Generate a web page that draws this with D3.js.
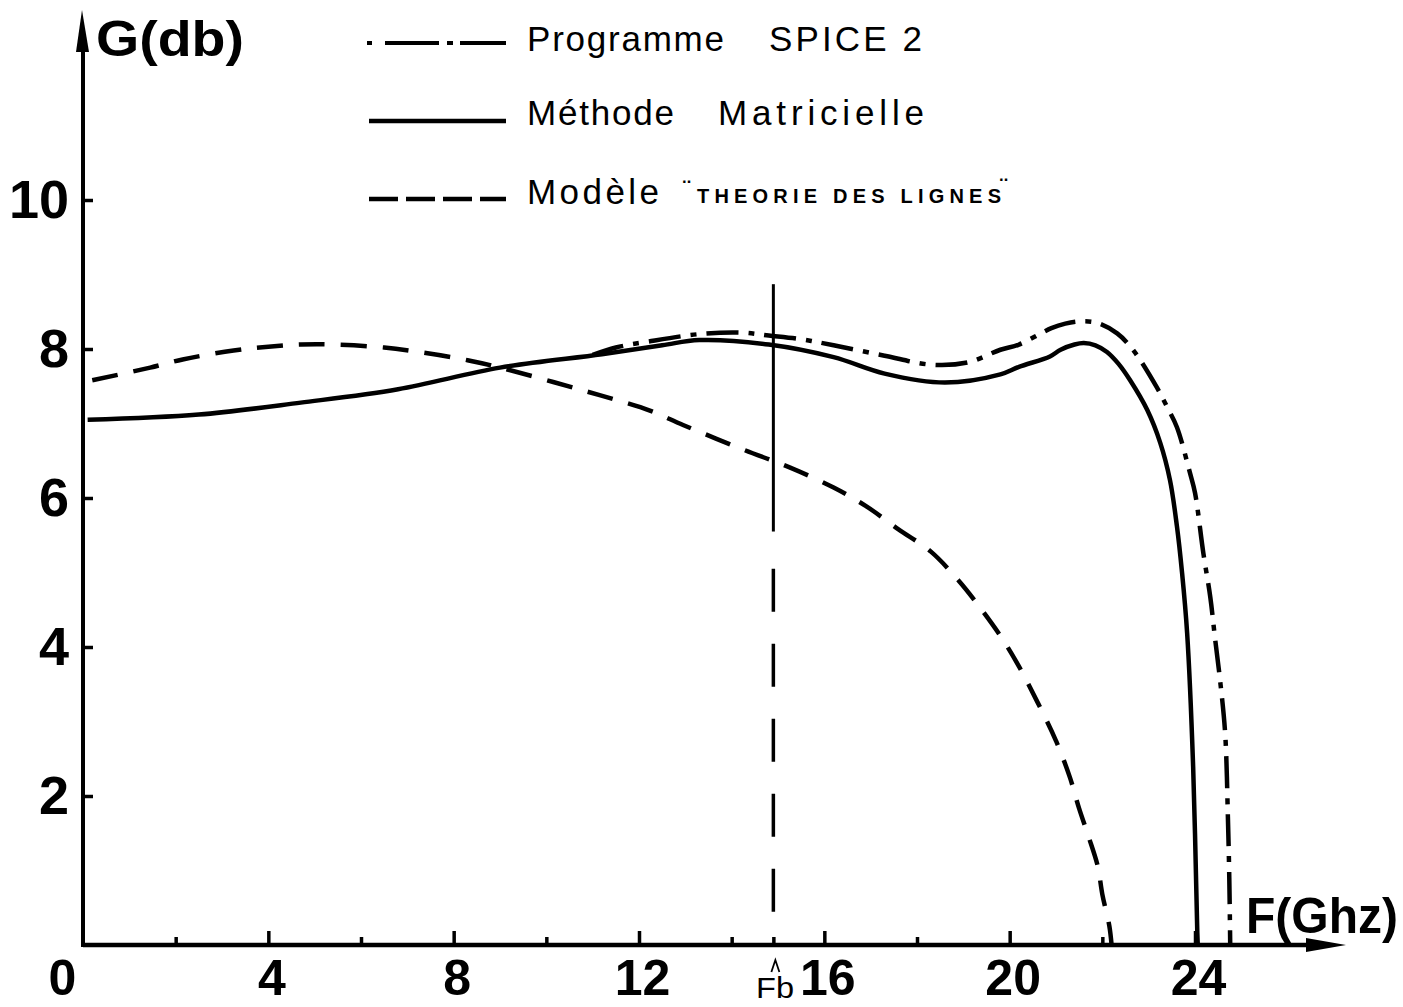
<!DOCTYPE html>
<html>
<head>
<meta charset="utf-8">
<script src="https://cdn.jsdelivr.net/npm/d3@7/dist/d3.min.js"></script>
<style>
  html, body { margin: 0; padding: 0; background: #fff; }
  svg { display: block; }
</style>
</head>
<body>
<svg id="chart" width="1403" height="1007"></svg>
<script>
// Gain G (dB) versus frequency F (GHz) for three computation methods.

// Méthode Matricielle (solid)
const matFreq = [0.1, 2.5, 4.7, 6.8, 9.0, 11.2, 12.5, 13.3, 14.8, 16.2, 17.3, 18.6, 19.8, 20.2, 20.87, 21.1, 21.4, 21.6, 21.85, 22.1, 22.35, 22.6, 22.97, 23.25, 23.46, 23.61, 23.72, 23.83, 23.96, 24.05, 24.06];
const matGain = [7.05, 7.12, 7.28, 7.46, 7.75, 7.93, 8.05, 8.12, 8.06, 7.89, 7.67, 7.55, 7.66, 7.76, 7.9, 7.99, 8.06, 8.08, 8.05, 7.96, 7.8, 7.58, 7.18, 6.74, 6.24, 5.62, 5.0, 4.19, 2.39, 0.16, 0];

// Programme SPICE 2 (dash-dot)
const spiceFreq = [11.0, 11.5, 12.2, 13.3, 14.2, 14.8, 15.5, 16.2, 17.3, 18.3, 19.1, 19.8, 20.2, 20.9, 21.2, 21.52, 21.89, 22.32, 22.66, 23.18, 23.4, 23.61, 23.89, 24.0, 24.18, 24.33, 24.43, 24.54, 24.65, 24.71, 24.74, 24.76];
const spiceGain = [7.92, 8.02, 8.10, 8.2, 8.22, 8.18, 8.13, 8.05, 7.91, 7.79, 7.82, 7.99, 8.06, 8.28, 8.34, 8.37, 8.35, 8.21, 7.99, 7.48, 7.22, 6.95, 6.34, 6.07, 5.26, 4.67, 4.13, 3.56, 2.85, 1.72, 0.9, 0];

// Modèle "théorie des lignes" (dashed)
const lineFreq = [0.2, 1.45, 2.15, 3.25, 4.0, 4.7, 5.4, 6.5, 7.35, 8.3, 9.0, 11.15, 12.25, 12.95, 14.25, 15.25, 16.2, 16.9, 17.6, 18.3, 18.9, 19.3, 19.8, 20.2, 20.6, 21.0, 21.3, 21.5, 21.7, 21.9, 22.0, 22.15, 22.2];
const lineGain = [7.58, 7.75, 7.86, 7.98, 8.03, 8.06, 8.06, 8.02, 7.95, 7.85, 7.75, 7.38, 7.17, 6.98, 6.65, 6.41, 6.14, 5.89, 5.58, 5.28, 4.89, 4.58, 4.15, 3.74, 3.26, 2.74, 2.25, 1.83, 1.46, 1.06, 0.68, 0.26, 0];

// Axis ticks
const xMajorTicks = [0, 4, 8, 12, 16, 20, 24];
const xMinorTicks = [2, 6, 10, 14, 18, 22];
const yTicks = [2, 4, 6, 8, 10];

// Marker frequency Fb and the extent of its vertical line
const fbFreq = 14.9;
const fbSolidTop = 8.87, fbSolidBottom = 5.55, fbDashTop = 5.05;

// Legend entries
const legendLabels = ["Programme", "SPICE 2", "Méthode", "Matricielle", "Modèle", "THEORIE DES LIGNES"];

const svg = d3.select("#chart");
const x = d3.scaleLinear().domain([0, 24]).range([83, 1195]);
const y = d3.scaleLinear().domain([0, 10]).range([945, 200]);

const ink = "#000";
const labelFont = "'Liberation Sans', Arial, sans-serif";

// ---- axes ----
const xAxisMajor = d3.axisBottom(x).tickValues(xMajorTicks).tickSize(-14).tickPadding(15).tickFormat(d3.format("d"));
const gxMaj = svg.append("g").attr("transform", `translate(0,${y(0)})`).call(xAxisMajor);
gxMaj.select(".domain").remove();
gxMaj.selectAll(".tick line").attr("stroke", ink).attr("stroke-width", 3.5);
gxMaj.selectAll(".tick").filter(d => d === 0).select("line").remove();
gxMaj.selectAll(".tick text")
  .attr("font-family", labelFont).attr("font-weight", "bold").attr("font-size", 50).attr("fill", ink)
  .attr("dy", null).attr("y", 50)
  .attr("dx", d => d === 0 ? -21 : 3);

const xAxisMinor = d3.axisBottom(x).tickValues(xMinorTicks.concat([fbFreq])).tickSize(-8).tickFormat("");
const gxMin = svg.append("g").attr("transform", `translate(0,${y(0)})`).call(xAxisMinor);
gxMin.select(".domain").remove();
gxMin.selectAll(".tick line").attr("stroke", ink).attr("stroke-width", 3.5);

const yAxis = d3.axisLeft(y).tickValues(yTicks).tickSize(-10).tickPadding(14).tickFormat(d3.format("d"));
const gy = svg.append("g").attr("transform", `translate(${x(0)},0)`).call(yAxis);
gy.select(".domain").remove();
gy.selectAll(".tick line").attr("stroke", ink).attr("stroke-width", 3.5);
gy.selectAll(".tick text")
  .attr("font-family", labelFont).attr("font-weight", "bold").attr("font-size", 54).attr("fill", ink);

// axis lines with arrow heads
svg.append("line").attr("x1", x(0)).attr("x2", 1310).attr("y1", y(0)).attr("y2", y(0))
  .attr("stroke", ink).attr("stroke-width", 4.5);
svg.append("path").attr("d", `M1306,${y(0) - 7} L1346,${y(0)} L1306,${y(0) + 7} Z`).attr("fill", ink);
svg.append("line").attr("x1", x(0)).attr("x2", x(0)).attr("y1", y(0) + 2).attr("y2", 45)
  .attr("stroke", ink).attr("stroke-width", 4);
svg.append("path").attr("d", `M${x(0) - 7},52 L${x(0) - 1},10 L${x(0) + 6},52 Z`).attr("fill", ink);

// axis titles
svg.append("text").attr("x", 96).attr("y", 56).attr("font-family", labelFont).attr("font-weight", "bold")
  .attr("font-size", 50).attr("textLength", 148).attr("lengthAdjust", "spacingAndGlyphs").attr("fill", ink).text("G(db)");
svg.append("text").attr("x", 1246).attr("y", 933).attr("font-family", labelFont).attr("font-weight", "bold")
  .attr("font-size", 50).attr("textLength", 152).attr("lengthAdjust", "spacingAndGlyphs").attr("fill", ink).text("F(Ghz)");

// Fb marker: small caret above the label
const fx = x(fbFreq) + 2;
svg.append("path").attr("d", `M${fx - 4},972 L${fx},960 L${fx + 4},972`)
  .attr("fill", "none").attr("stroke", ink).attr("stroke-width", 1.8);
svg.append("text").attr("x", 756).attr("y", 998).attr("font-family", labelFont)
  .attr("font-size", 30).attr("textLength", 38).attr("lengthAdjust", "spacingAndGlyphs").attr("fill", ink).text("Fb");

// Fb vertical line: solid upper part, long dashes below
svg.append("line").attr("x1", x(fbFreq)).attr("x2", x(fbFreq)).attr("y1", y(fbSolidTop)).attr("y2", y(fbSolidBottom))
  .attr("stroke", ink).attr("stroke-width", 3);
svg.append("line").attr("x1", x(fbFreq)).attr("x2", x(fbFreq)).attr("y1", y(fbDashTop)).attr("y2", y(0))
  .attr("stroke", ink).attr("stroke-width", 3.5).attr("stroke-dasharray", "43,32");

// ---- curves ----
const line = d3.line().x(d => x(d[0])).y(d => y(d[1])).curve(d3.curveCatmullRom.alpha(0.5));
const zip = (f, g) => f.map((v, i) => [v, g[i]]);

svg.append("path").datum(zip(lineFreq, lineGain)).attr("d", line)
  .attr("fill", "none").attr("stroke", ink).attr("stroke-width", 4.5).attr("stroke-dasharray", "26,16");
svg.append("path").datum(zip(spiceFreq, spiceGain)).attr("d", line)
  .attr("fill", "none").attr("stroke", ink).attr("stroke-width", 4.5).attr("stroke-dasharray", "32,10,6,10");
svg.append("path").datum(zip(matFreq, matGain)).attr("d", line)
  .attr("fill", "none").attr("stroke", ink).attr("stroke-width", 4.5);

// ---- legend ----
const legend = svg.append("g");
legend.append("line").attr("x1", 367).attr("x2", 506).attr("y1", 43).attr("y2", 43)
  .attr("stroke", ink).attr("stroke-width", 4).attr("stroke-dasharray", "5,13,54,8,6,7,50");
legend.append("line").attr("x1", 369).attr("x2", 506).attr("y1", 121).attr("y2", 121)
  .attr("stroke", ink).attr("stroke-width", 4.5);
legend.append("line").attr("x1", 369).attr("x2", 506).attr("y1", 199).attr("y2", 199)
  .attr("stroke", ink).attr("stroke-width", 4.5).attr("stroke-dasharray", "29,8");

const legendText = (txt, xp, yp, len, size, weight) =>
  legend.append("text").attr("x", xp).attr("y", yp).attr("font-family", labelFont)
    .attr("font-size", size).attr("font-weight", weight || "normal")
    .attr("textLength", len).attr("lengthAdjust", "spacing").attr("fill", ink).text(txt);

legendText(legendLabels[0], 527, 51, 197, 35);
legendText(legendLabels[1], 769, 51, 153, 35);
legendText(legendLabels[2], 527, 125, 147, 35);
legendText(legendLabels[3], 718, 125, 206, 35);
legendText(legendLabels[4], 527, 204, 132, 35);
legendText(legendLabels[5], 697, 203, 304, 20, "bold");
// quotation marks around the model name
legend.append("text").attr("x", 683).attr("y", 196).attr("font-family", labelFont).attr("font-size", 22)
  .attr("font-weight", "bold").attr("fill", ink).text("\u00a8");
legend.append("text").attr("x", 1000).attr("y", 194).attr("font-family", labelFont).attr("font-size", 22)
  .attr("font-weight", "bold").attr("fill", ink).text("\u00a8");
</script>
</body>
</html>
